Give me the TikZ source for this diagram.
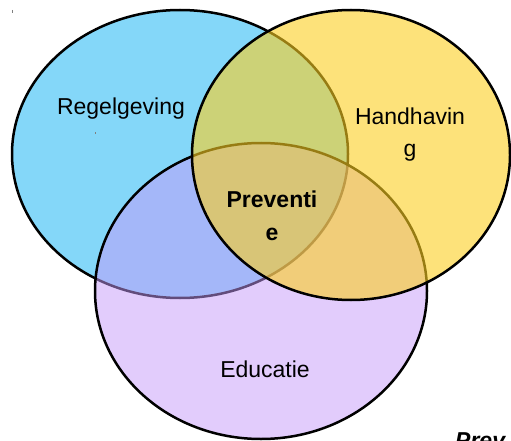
\documentclass[tikz,border=0pt]{standalone}
\usepackage{fontspec}
\setmainfont{Liberation Sans}
\definecolor{cblue}{RGB}{132,215,249}
\definecolor{cpurple}{RGB}{197,153,249}
\definecolor{cyellow}{RGB}{252,207,33}
\begin{document}
\begin{tikzpicture}[x=1pt,y=-1pt,
  setshape/.style={draw=black,line width=2.5pt},
  lbl/.style={font=\fontsize{23}{32}\selectfont,align=center,inner sep=0pt,anchor=base},
  tick/.style={draw=gray,line width=0.8pt}]
\useasboundingbox (0,0) rectangle (511,441);
\clip (0,0) rectangle (511,441);
\draw[setshape,fill=cblue] (180,154) ellipse [x radius=168,y radius=144];
\draw[setshape,fill=cpurple,fill opacity=0.5] (261,291) ellipse [x radius=166,y radius=148];
\draw[setshape,fill=cyellow,fill opacity=0.6] (351,155) ellipse [x radius=159,y radius=145];
\node[lbl] (regel) at (121,115) {Regelgeving};
\node[lbl] (hand) at (410,156) {Handhavin\\g};
\node[lbl,font=\fontsize{23}{33}\selectfont\bfseries] (prev) at (272,240) {Preventi\\e};
\node[lbl] (edu) at (265,377) {Educatie};
\node[lbl,anchor=base west,font=\fontsize{23}{32}\selectfont\bfseries\itshape] (cap) at (455,448) {Prev};
\coordinate (t1a) at (12,10); \coordinate (t1b) at (12,13);
\coordinate (t2a) at (95,132.5); \coordinate (t2b) at (95,134.5);
\draw[tick] (t1a) -- (t1b);
\draw[tick] (t2a) -- (t2b);
\end{tikzpicture}
\end{document}
